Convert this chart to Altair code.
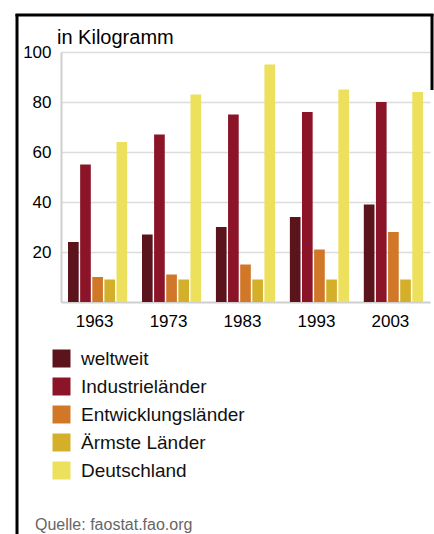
import altair as alt
import pandas as pd

# Per-capita meat consumption, kg per year
years = ["1963", "1973", "1983", "1993", "2003"]
series = ["weltweit", "Industrieländer", "Entwicklungsländer", "Ärmste Länder", "Deutschland"]
weltweit = [24, 27, 30, 34, 39]
industrie = [55, 67, 75, 76, 80]
entwicklung = [10, 11, 15, 21, 28]
aermste = [9, 9, 9, 9, 9]
deutschland = [64, 83, 95, 85, 84]
colors = ["#5c141c", "#8c1428", "#d07828", "#d4b02a", "#ece05c"]

values = [weltweit, industrie, entwicklung, aermste, deutschland]
rows = []
for s, vals in zip(series, values):
    for y, v in zip(years, vals):
        rows.append({"Jahr": y, "Gruppe": s, "kg": v})
df = pd.DataFrame(rows)

FONT = "Liberation Sans"

bars = alt.Chart(df).mark_bar().encode(
    x=alt.X(
        "Jahr:N",
        sort=years,
        scale=alt.Scale(paddingInner=0.2, paddingOuter=0.095),
        axis=alt.Axis(
            title=None, labelAngle=0, ticks=False, labelFontSize=17,
            labelPadding=11, labelOffset=-3, labelColor="#000000",
            domainColor="#cfcfcf", domainWidth=2, labelFont=FONT,
        ),
    ),
    xOffset=alt.XOffset("Gruppe:N", sort=series, scale=alt.Scale(paddingInner=0.12)),
    y=alt.Y(
        "kg:Q",
        scale=alt.Scale(domain=[0, 100], nice=False),
        axis=alt.Axis(
            title=None, values=[20, 40, 60, 80, 100], ticks=False,
            labelFontSize=17, labelPadding=10, labelColor="#000000",
            gridColor="#dcdcdc", gridWidth=1.5, domainColor="#cfcfcf",
            domainWidth=2, labelFont=FONT,
        ),
    ),
    color=alt.Color(
        "Gruppe:N",
        sort=series,
        scale=alt.Scale(domain=series, range=colors),
        legend=alt.Legend(
            title=None, orient="none", legendX=-9, legendY=297,
            symbolType="square", symbolSize=324, symbolStrokeWidth=0,
            symbolOpacity=1, labelFontSize=19, labelFont=FONT,
            labelColor="#111111", labelOffset=10, rowPadding=8,
            labelLimit=300,
        ),
    ),
)

# Frame lines around the graphic
frame = pd.DataFrame({
    "x": [-44, -45.5, 371],
    "x2": [-44, 372.5, 371],
    "y": [-38, -37, -38],
    "y2": [484, -37, 38],
})
border = alt.Chart(frame).mark_rule(color="#000000", strokeWidth=3).encode(
    x=alt.X("x:Q", scale=None),
    x2="x2:Q",
    y=alt.Y("y:Q", scale=None),
    y2="y2:Q",
)

unit = alt.Chart(pd.DataFrame({"t": ["in Kilogramm"]})).mark_text(
    align="left", baseline="alphabetic", fontSize=20, font=FONT, color="#000000"
).encode(x=alt.value(-4), y=alt.value(-8), text="t:N")

source = alt.Chart(pd.DataFrame({"t": ["Quelle: faostat.fao.org"]})).mark_text(
    align="left", baseline="alphabetic", fontSize=16, font=FONT, color="#666666"
).encode(x=alt.value(-26), y=alt.value(478), text="t:N")

chart = alt.layer(bars, border, unit, source).properties(
    width=369,
    height=250,
    padding={"left": 61, "top": 52, "right": 4, "bottom": 232},
    autosize=alt.AutoSizeParams(type="none"),
    background="#ffffff",
).configure_view(strokeWidth=0)

chart.save("out.html", embed_options={"renderer": "svg", "actions": False})
